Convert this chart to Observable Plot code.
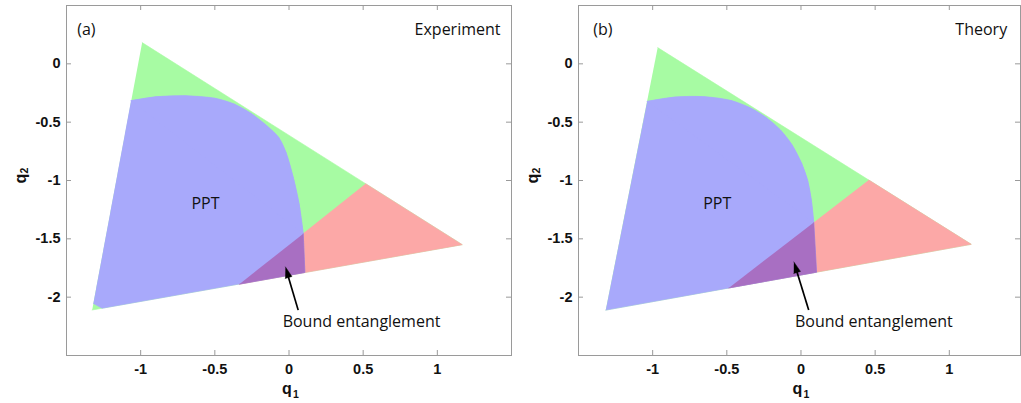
<!DOCTYPE html>
<html>
<head>
<meta charset="utf-8">
<script src="https://cdn.jsdelivr.net/npm/d3@7"></script>
<script src="https://cdn.jsdelivr.net/npm/@observablehq/plot@0.6"></script>
<style>
  html, body { margin: 0; padding: 0; background: #fff; }
  #wrap { position: relative; width: 1021px; height: 403px; overflow: hidden; background: #fff; }
  #wrap > div { position: absolute; top: 0; }
</style>
</head>
<body>
<div id="wrap"><div id="pa" style="left:0px"></div><div id="pb" style="left:520px"></div></div>
<script>
// ---- data ----
const xTicks = [-1, -0.5, 0, 0.5, 1];
const yTicks = [0, -0.5, -1, -1.5, -2];

// Panel (a) Experiment
const triangleA = [[-0.99, 0.182], [1.168, -1.55], [-1.327, -2.11]];
const entangledA = [[0.516, -1.027], [1.168, -1.55], [-0.335, -1.889]];
const pptCurveA = [[-1.065, -0.316], [-0.9, -0.283], [-0.7, -0.274], [-0.5, -0.295], [-0.37, -0.345],
  [-0.25, -0.43], [-0.15, -0.53], [-0.07, -0.63], [-0.02, -0.76], [0.03, -0.98], [0.068, -1.2],
  [0.096, -1.456]];
const pptEdgeA = [[0.107, -1.788], [-1.26, -2.095], [-1.319, -2.054]];
const boundA = [[-0.335, -1.889], [0.107, -1.788], [0.096, -1.456]];
const arrowA = [{x1: 0.062, y1: -2.111, x2: -0.024, y2: -1.741}];

// Panel (b) Theory
const triangleB = [[-0.966, 0.139], [1.148, -1.547], [-1.316, -2.111]];
const entangledB = [[0.457, -0.996], [1.148, -1.547], [-0.487, -1.921]];
const pptCurveB = [[-1.037, -0.322], [-0.85, -0.285], [-0.65, -0.282], [-0.47, -0.315], [-0.33, -0.385],
  [-0.23, -0.465], [-0.14, -0.565], [-0.06, -0.695], [0.005, -0.855], [0.045, -1.0], [0.07, -1.17],
  [0.086, -1.36]];
const pptEdgeB = [[0.105, -1.786], [-1.316, -2.111]];
const boundB = [[-0.487, -1.921], [0.105, -1.786], [0.086, -1.36]];
const arrowB = [{x1: 0.052, y1: -2.111, x2: -0.048, y2: -1.698}];

const labelsA = {tag: "(a)", tagX: -1.428, title: "Experiment", titleX: 1.426, pptX: -0.563, boundX: 0.489};
const labelsB = {tag: "(b)", tagX: -1.40, title: "Theory", titleX: 1.39, pptX: -0.565, boundX: 0.491};

const colors = {green: "#a7fba3", red: "#fca8a7", blue: "#a8a9fb", purple: "#a86fc2", frame: "#9a9a9a"};
const textFont = "'Open Sans', 'Noto Sans', sans-serif";
const tickFont = "'Liberation Sans', Arial, sans-serif";

function panel({width, marginLeft, marginRight, xDomain, tri, red, pptCurve, pptEdge, bound, arrow, labels}) {
  const marginTop = 5, marginBottom = 48, height = 403;
  const yDomain = [-2.5, 0.5];
  const kx = (xDomain[1] - xDomain[0]) / (width - marginLeft - marginRight); // data per px
  const ky = (yDomain[1] - yDomain[0]) / (height - marginTop - marginBottom);
  const tl = 5; // tick length px
  const poly = (data, fill, curve = "linear") =>
    Plot.line(data, {x: d => d[0], y: d => d[1], fill, stroke: fill, strokeWidth: 0.6, curve});
  // PPT region: straight polygon underneath, smooth boundary drawn on top
  const pptPolygon = [...pptCurve, ...pptEdge];
  // filled arrow head derived from the arrow endpoints (in pixel space)
  const a = arrow[0];
  const dxp = (a.x2 - a.x1) / kx, dyp = -(a.y2 - a.y1) / ky;
  const L = Math.hypot(dxp, dyp), ux = dxp / L, uy = dyp / L;
  const headLen = 11, headW = 7;
  const bx = -ux * headLen, by = -uy * headLen; // base centre relative to tip (px)
  const nx = -uy * headW / 2, ny = ux * headW / 2;
  const toData = (px, py) => [a.x2 + px * kx, a.y2 - py * ky];
  const head = [toData(0, 0), toData(bx + nx, by + ny), toData(bx - nx, by - ny)];
  const shaftEnd = toData(bx * 0.8, by * 0.8);
  const shaft = [{x1: a.x1, y1: a.y1, x2: shaftEnd[0], y2: shaftEnd[1]}];
  const txt = {fontFamily: textFont, fill: "#111", fontSize: 16};
  const tick = {fontFamily: tickFont, fill: "#111", fontWeight: "bold"};
  return Plot.plot({
    width, height, marginLeft, marginRight, marginTop, marginBottom,
    x: {domain: xDomain},
    y: {domain: yDomain},
    style: {background: "#fff", overflow: "visible"},
    marks: [
      poly(tri, colors.green),
      poly(red, colors.red),
      poly(pptPolygon, colors.blue),
      poly(pptCurve, colors.blue, "catmull-rom"),
      poly(bound, colors.purple),
      Plot.frame({stroke: colors.frame, strokeWidth: 1}),
      // inward ticks on all four sides
      Plot.ruleX(xTicks, {y1: yDomain[0], y2: yDomain[0] + tl * ky, stroke: colors.frame}),
      Plot.ruleX(xTicks, {y1: yDomain[1], y2: yDomain[1] - tl * ky, stroke: colors.frame}),
      Plot.ruleY(yTicks, {x1: xDomain[0], x2: xDomain[0] + tl * kx, stroke: colors.frame}),
      Plot.ruleY(yTicks, {x1: xDomain[1], x2: xDomain[1] - tl * kx, stroke: colors.frame}),
      Plot.axisX(xTicks, {anchor: "bottom", tickSize: 0, tickPadding: 8, tickFormat: d => String(d),
        label: null, fontSize: 14.5, ...tick}),
      Plot.axisY(yTicks, {anchor: "left", tickSize: 0, tickPadding: 6, tickFormat: d => String(d),
        label: null, fontSize: 14.5, ...tick}),
      // axis titles with subscripts
      Plot.text(["q"], {frameAnchor: "bottom", lineAnchor: "bottom", dy: 38, dx: -2, fontSize: 16, ...tick}),
      Plot.text(["1"], {frameAnchor: "bottom", lineAnchor: "bottom", dy: 42, dx: 7, fontSize: 10.5, ...tick}),
      Plot.text(["q"], {frameAnchor: "left", rotate: -90, lineAnchor: "middle", dx: -46, dy: 3, fontSize: 16, ...tick}),
      Plot.text(["2"], {frameAnchor: "left", rotate: -90, lineAnchor: "middle", dx: -42, dy: -7, fontSize: 10.5, ...tick}),
      // annotations
      Plot.text([labels.tag], {x: labels.tagX, y: 0.291, textAnchor: "start", lineAnchor: "middle", ...txt}),
      Plot.text([labels.title], {x: labels.titleX, y: 0.291, textAnchor: "end", lineAnchor: "middle", ...txt}),
      Plot.text(["PPT"], {x: labels.pptX, y: -1.197, textAnchor: "middle", lineAnchor: "middle", ...txt}),
      Plot.text(["Bound entanglement"], {x: labels.boundX, y: -2.211, textAnchor: "middle", lineAnchor: "middle", ...txt}),
      Plot.link(shaft, {x1: "x1", y1: "y1", x2: "x2", y2: "y2", stroke: "#000", strokeWidth: 1.7}),
      Plot.line(head, {x: d => d[0], y: d => d[1], fill: "#000", stroke: "#000", strokeWidth: 0.5})
    ]
  });
}

document.getElementById("pa").append(panel({
  width: 520, marginLeft: 66, marginRight: 9, xDomain: [-1.5, 1.5],
  tri: triangleA, red: entangledA, pptCurve: pptCurveA, pptEdge: pptEdgeA, bound: boundA, arrow: arrowA, labels: labelsA
}));
document.getElementById("pb").append(panel({
  width: 501, marginLeft: 58, marginRight: 1, xDomain: [-1.5, 1.48],
  tri: triangleB, red: entangledB, pptCurve: pptCurveB, pptEdge: pptEdgeB, bound: boundB, arrow: arrowB, labels: labelsB
}));
</script>
</body>
</html>
